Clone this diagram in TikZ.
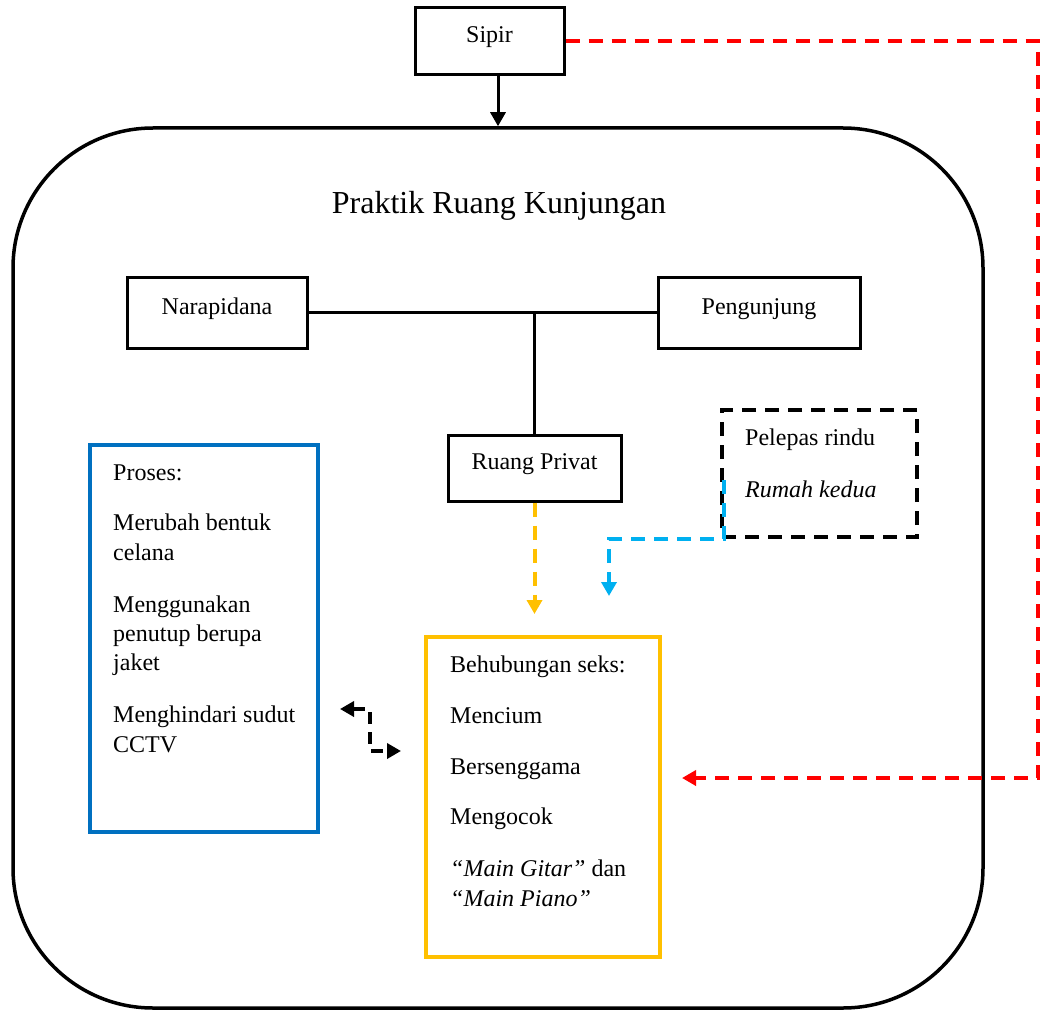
\documentclass[tikz,border=0pt]{standalone}
\usepackage{fontspec}
\setmainfont{Liberation Serif}
\usepackage{xcolor}
\usetikzlibrary{arrows.meta,calc}

\definecolor{garisbiru}{HTML}{0070C0}
\definecolor{gariskuning}{HTML}{FFC000}
\definecolor{panahbiru}{HTML}{00B0F0}
\definecolor{panahmerah}{HTML}{FF0000}

\begin{document}
\begin{tikzpicture}[x=1pt, y=-1pt,
        font=\fontsize{24}{29}\selectfont,
        kotak/.style={draw, line width=3pt, inner sep=0pt, text height=18pt, text depth=15pt},
        daftar/.style={draw, line width=3.5pt},
        baris/.style={anchor=base west, inner sep=0pt},
        putus/.style={line width=4pt, dash pattern=on 14pt off 9pt},
        tip/.style={-{Triangle[length=14pt,width=15pt]}}]

        \useasboundingbox (0,0) rectangle (1042,1014);

        % Kotak utama
        \node[draw, line width=3.5pt, rounded corners=140pt, minimum width=970, minimum height=880] (ruang) at (498,568) {};
        \node[anchor=base, font=\fontsize{32}{38}\selectfont] (judul) at (499,213) {Praktik Ruang Kunjungan};

        % Kotak kecil
        \node[kotak, minimum width=149, minimum height=67] (sipir) at (489.5,41.5) {Sipir};
        \node[kotak, minimum width=180, minimum height=71] (napi) at (217,312.5) {Narapidana};
        \node[kotak, minimum width=202, minimum height=71] (tamu) at (759,312.5) {Pengunjung};
        \node[kotak, minimum width=173, minimum height=66] (privat) at (534.5,468) {Ruang Privat};
        \node[draw, putus, minimum width=195, minimum height=127] (rindu) at (819.5,473.5) {};
        \node[baris] (rindu1) at (745,445) {Pelepas rindu};
        \node[baris] (rindu2) at (745,497) {\textit{Rumah kedua}};

        % Kotak proses dan kotak seks
        \node[daftar, draw=garisbiru, minimum width=228, minimum height=387] (proses) at (204,638.5) {};
        \node[daftar, draw=gariskuning, minimum width=234, minimum height=320] (seks) at (543,797) {};

        \foreach \t/\y [count=\i] in {Proses:/480, Merubah bentuk/530, celana/560,
            Menggunakan/612, penutup berupa/641, jaket/670, Menghindari sudut/722, CCTV/752}
            \node[baris] (proses\i) at (113,\y) {\t};

        \foreach \t/\y [count=\i] in {Behubungan seks:/672, Mencium/723, Bersenggama/774,
            Mengocok/824, {\textit{“Main Gitar”} dan}/876, {\textit{“Main Piano”}}/906}
            \node[baris] (seks\i) at (450,\y) {\t};

        % Garis penghubung
        \draw[line width=3pt] (napi) -- (tamu);
        \draw[line width=3pt] (privat.north) -- (privat.north |- napi.east);
        \draw[line width=3pt, tip] (sipir.south -| ruang.north) -- (ruang.north);

        % Panah putus-putus
        \coordinate (kuningujung) at (534.5,614);
        \draw[putus, gariskuning, tip] (privat.south) -- (kuningujung);

        \coordinate (birumulai) at (724,480);
        \coordinate (biruujung) at (609,596);
        \draw[putus, panahbiru, tip] (birumulai) -- (birumulai |- rindu.south) -| (biruujung);

        \coordinate (merahsudut) at (1038,778);
        \coordinate (merahujung) at (682,778);
        \draw[putus, panahmerah, tip] (sipir.east) -| (merahsudut) -- (merahujung);

        \coordinate (panahkiri) at (340,709);
        \coordinate (panahtengah) at (370,730);
        \coordinate (panahkanan) at (401,751);
        \draw[line width=4pt, dash pattern=on 12pt off 8pt,
            {Triangle[length=14pt,width=15pt]}-{Triangle[length=14pt,width=15pt]}]
            (panahkiri) -| (panahtengah) |- (panahkanan);
\end{tikzpicture}
\end{document}
